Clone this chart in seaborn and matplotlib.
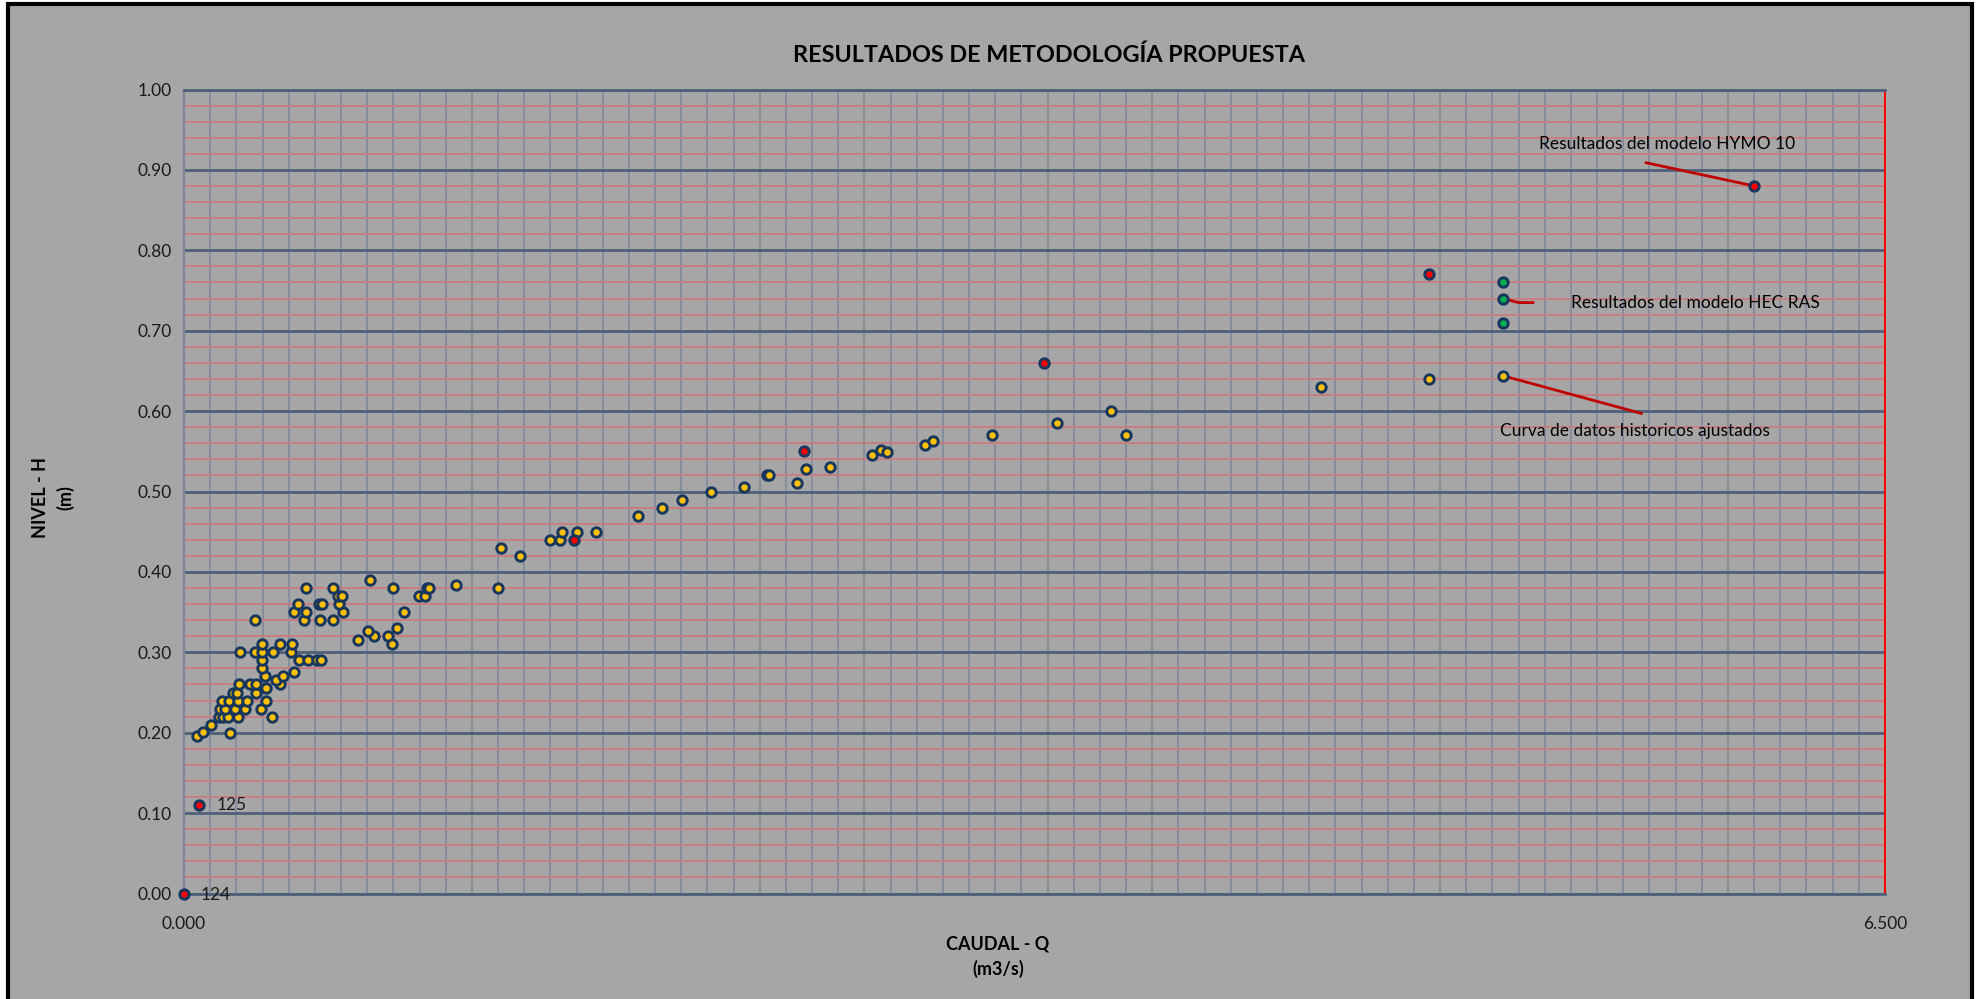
import matplotlib
matplotlib.use("Agg")
import matplotlib.pyplot as plt
import matplotlib.patches as mpatches
from matplotlib.ticker import MultipleLocator, FixedLocator
import seaborn as sns
import pandas as pd

# Historical stage-discharge readings (caudal Q in m3/s, nivel H in m)
hist_q = [0.048, 0.074, 0.102, 0.134, 0.148, 0.168, 0.206, 0.336, 0.138, 0.158,
          0.194, 0.232, 0.293, 0.145, 0.171, 0.206, 0.239, 0.315, 0.176, 0.189,
          0.204, 0.275, 0.315, 0.211, 0.252, 0.275, 0.366, 0.352, 0.311, 0.380,
          0.419, 0.299, 0.299, 0.438, 0.474, 0.507, 0.525, 0.214, 0.270, 0.299,
          0.339, 0.409, 0.297, 0.366, 0.414, 0.666, 0.727, 0.780, 0.702, 0.814,
          0.795, 0.270, 0.459, 0.518, 0.569, 0.419, 0.467, 0.609, 0.841, 0.434,
          0.516, 0.529, 0.594, 0.587, 0.602, 0.899, 0.920, 0.465, 0.569, 0.797,
          0.927, 0.936, 0.712,
          1.039, 1.199, 1.210, 1.283, 1.400, 1.437, 1.443, 1.500, 1.574, 1.736,
          1.828, 1.904, 2.012, 2.140, 2.227, 2.234, 2.342, 2.376, 2.470, 2.629,
          2.662, 2.688, 2.833, 2.862, 3.087, 3.337, 3.541, 3.598, 4.343, 4.756,
          5.040]
hist_h = [0.196, 0.201, 0.21, 0.22, 0.22, 0.22, 0.22, 0.22, 0.23, 0.23,
          0.23, 0.23, 0.23, 0.24, 0.24, 0.24, 0.24, 0.24, 0.20, 0.25,
          0.25, 0.25, 0.255, 0.26, 0.26, 0.26, 0.26, 0.265, 0.27, 0.27,
          0.275, 0.28, 0.29, 0.29, 0.29, 0.29, 0.29, 0.30, 0.30, 0.30,
          0.30, 0.30, 0.31, 0.31, 0.31, 0.315, 0.32, 0.32, 0.326, 0.33,
          0.31, 0.34, 0.34, 0.34, 0.34, 0.35, 0.35, 0.35, 0.35, 0.36,
          0.36, 0.36, 0.36, 0.37, 0.37, 0.37, 0.37, 0.38, 0.38, 0.38,
          0.38, 0.38, 0.39,
          0.384, 0.38, 0.43, 0.42, 0.44, 0.44, 0.45, 0.45, 0.45, 0.47,
          0.48, 0.49, 0.50, 0.505, 0.52, 0.52, 0.51, 0.528, 0.53, 0.546,
          0.551, 0.549, 0.558, 0.563, 0.57, 0.585, 0.60, 0.57, 0.63, 0.64,
          0.644]

# HYMO 10 model results
hymo_q = [0.000, 0.058, 1.490, 2.370, 3.287, 4.756, 6.000]
hymo_h = [0.00, 0.11, 0.44, 0.55, 0.66, 0.77, 0.88]
hymo_ids = ["124", "125"]

# HEC RAS model results
hec_q = [5.040, 5.040, 5.040]
hec_h = [0.76, 0.74, 0.71]

y_ticks = [0.0, 0.1, 0.2, 0.3, 0.4, 0.5, 0.6, 0.7, 0.8, 0.9, 1.0]
x_ticks = [0.0, 6.5]

BG = "#A6A6A6"
NAVY = "#17375E"
FONT = ["Lato", "DejaVu Sans"]

sns.set_theme(style="white")
plt.rcParams["font.family"] = FONT

fig = plt.figure(figsize=(19.77, 9.99), dpi=100, facecolor="white")
# grey chart area with black frame
fig.patches.append(mpatches.Rectangle((8 / 1977, -0.05), 1964 / 1977, 1.05 - 4 / 999,
                                      transform=fig.transFigure, facecolor=BG,
                                      edgecolor="black", linewidth=3, zorder=-10))

ax = fig.add_axes([184 / 1977, 1 - 893.5 / 999, 1701 / 1977, 804 / 999])
ax.set_facecolor(BG)

df = pd.concat([
    pd.DataFrame({"Q": hist_q, "H": hist_h, "serie": "hist"}),
    pd.DataFrame({"Q": hymo_q, "H": hymo_h, "serie": "hymo"}),
    pd.DataFrame({"Q": hec_q, "H": hec_h, "serie": "hec"}),
], ignore_index=True)

palette = {"hist": "#FFC000", "hymo": "#FF0000", "hec": "#00B050"}
for serie in ["hist", "hymo", "hec"]:
    sub = df[df["serie"] == serie]
    sns.scatterplot(data=sub, x="Q", y="H", color=palette[serie], s=46,
                    edgecolor=NAVY, linewidth=2.1, ax=ax, legend=False, zorder=5,
                    clip_on=False)

ax.set_xlim(0, 6.5)
ax.set_ylim(0, 1.0)
ax.xaxis.set_major_locator(FixedLocator(x_ticks))
ax.set_xticklabels([f"{v:.3f}" for v in x_ticks])
ax.xaxis.set_minor_locator(MultipleLocator(0.1))
ax.yaxis.set_major_locator(FixedLocator(y_ticks))
ax.set_yticklabels([f"{v:.2f}" for v in y_ticks])
ax.yaxis.set_minor_locator(MultipleLocator(0.02))

ax.xaxis.grid(True, which="minor", color="#808999", linewidth=1.2, zorder=1)
ax.yaxis.grid(True, which="minor", color="#C97C80", linewidth=1.4, zorder=1)
ax.yaxis.grid(True, which="major", color="#4E6079", linewidth=2.0, zorder=2)
ax.xaxis.grid(False, which="major")
ax.set_axisbelow(True)

ax.tick_params(axis="both", which="both", length=0, labelsize=12.5, colors="#1A1A1A")
ax.tick_params(axis="x", pad=16)
ax.tick_params(axis="y", pad=9)

for side in ["top", "bottom"]:
    ax.spines[side].set_color("#4E6079")
    ax.spines[side].set_linewidth(2.0)
ax.spines["left"].set_color("#7F8899")
ax.spines["left"].set_linewidth(1.6)
ax.spines["right"].set_color("#FF0000")
ax.spines["right"].set_linewidth(1.4)

ax.set_xlabel("")
ax.set_ylabel("")

fig.text(1049 / 1977, 1 - 55 / 999, "RESULTADOS DE METODOLOGÍA PROPUESTA",
         ha="center", va="center", fontsize=16.8, fontweight="bold", color="black")
fig.text(998 / 1977, 1 - 957 / 999, "CAUDAL - Q\n(m3/s)", ha="center", va="center",
         fontsize=13, fontweight="bold", color="black", linespacing=1.5)
fig.text(53 / 1977, 1 - 498 / 999, "NIVEL - H\n(m)", ha="center", va="center",
         rotation=90, fontsize=13, fontweight="bold", color="black", linespacing=1.5)

# point identifiers
ax.text(hymo_q[0] + 0.063, hymo_h[0] - 0.002, hymo_ids[0], ha="left", va="center",
        fontsize=12.5, color="#1A1A1A", zorder=6)
ax.text(hymo_q[1] + 0.067, hymo_h[1], hymo_ids[1], ha="left", va="center",
        fontsize=12.5, color="#1A1A1A", zorder=6)

# callouts
line_kw = dict(color="#C00000", linewidth=2, zorder=4)
ax.plot([5.586, hymo_q[-1]], [0.909, hymo_h[-1]], **line_kw)
ax.text(5.667, 0.932, "Resultados del modelo HYMO 10", ha="center", va="center",
        fontsize=12.5, color="black")
ax.plot([hec_q[1], 5.10, 5.16], [hec_h[1], 0.735, 0.735], solid_capstyle="butt", **line_kw)
ax.text(5.30, 0.734, "Resultados del modelo HEC RAS", ha="left", va="center",
        fontsize=12.5, color="black")
ax.plot([hist_q[-1], 5.57], [hist_h[-1], 0.597], **line_kw)
ax.text(5.03, 0.5755, "Curva de datos historicos ajustados", ha="left", va="center",
        fontsize=12.5, color="black")

fig.savefig("out.png", dpi=100, facecolor="white")
